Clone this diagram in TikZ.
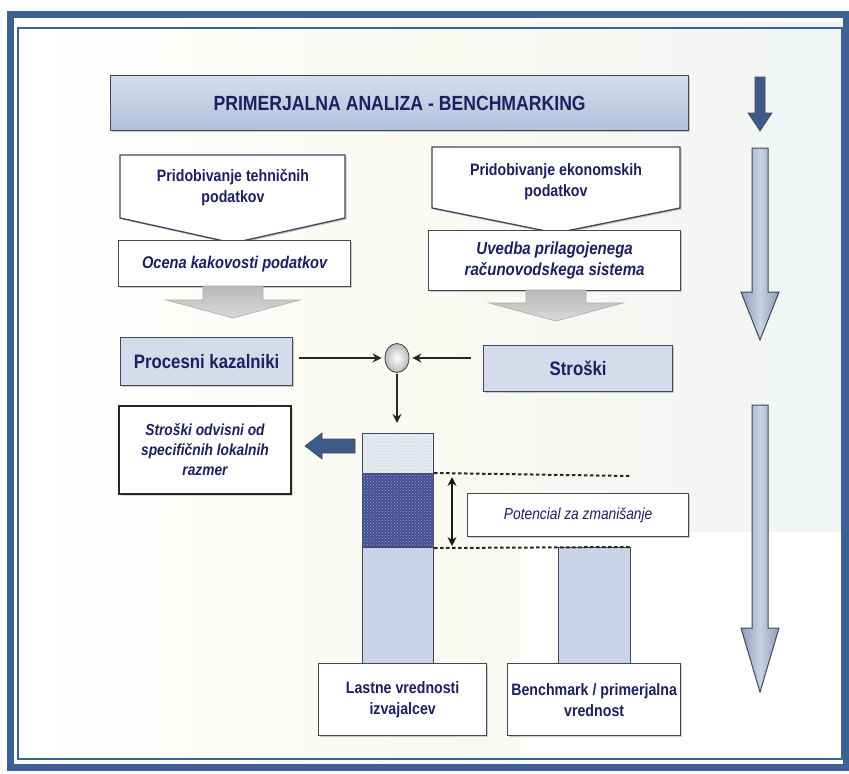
\documentclass[tikz,border=0pt]{standalone}
\usepackage{fontspec}
\setmainfont{Liberation Sans}[FakeStretch=0.86]
\usetikzlibrary{shadows,patterns,arrows.meta,shapes.geometric}
\definecolor{frameblue}{RGB}{58,98,148}
\definecolor{navy}{RGB}{28,32,96}
\definecolor{titlefill}{RGB}{176,194,219}
\definecolor{boxfill}{RGB}{212,220,236}
\definecolor{barfill}{RGB}{200,213,232}
\definecolor{arrowdark}{RGB}{62,92,135}
\definecolor{edge}{RGB}{66,70,88}
\definecolor{bgcream}{RGB}{249,250,242}
\definecolor{bgblue}{RGB}{241,244,245}
\definecolor{arrowlight}{RGB}{200,210,224}
\definecolor{arrowmid}{RGB}{140,158,184}
\begin{document}
\begin{tikzpicture}[x=1pt,y=-1pt,
  txt/.style={text=navy,align=center},
  panel/.style={draw=edge,line width=1.3pt,
    drop shadow={opacity=0.4,shadow xshift=1.5pt,shadow yshift=-1.5pt}},
  nwbox/.style 2 args={anchor=north west,minimum width=#1,minimum height=#2,inner sep=0pt},
  conn/.style={draw=black!85,line width=1.6pt,-{Stealth[length=9pt,width=9pt]}},
  dashline/.style={draw=black!85,line width=2pt,dash pattern=on 3.5pt off 2.5pt},
  grayarrow/.style={top color=gray!55,bottom color=gray!30,draw=gray!65,line width=0.6pt},
  bigarrow/.style={left color=arrowmid,right color=arrowmid,middle color=arrowlight,draw=edge,line width=1pt}
]
\useasboundingbox (0,0) rectangle (849,774);
% background
\fill[white] (0,0) rectangle (849,774);
\shade[left color=white,right color=bgblue,middle color=bgcream] (14,22) rectangle (845,765);
\fill[white] (520,532) rectangle (845,765);
% frame
\draw[frameblue,line width=7pt] (10,14) rectangle (846,767);
\draw[frameblue,line width=1.6pt] (18,28) rectangle (842,759);

% title
\node[panel,txt,nwbox={578pt}{55pt},top color=titlefill!55!white,bottom color=titlefill,
  font=\fontsize{20.5}{24}\selectfont\bfseries] (title) at (110,75) {PRIMERJALNA ANALIZA - BENCHMARKING};

% right column arrows
\fill[arrowdark,draw=edge,line width=0.6pt] (755,77) -- (765,77) -- (765,113) -- (772,113) -- (760,131) -- (748,113) -- (755,113) -- cycle;
\shade[bigarrow] (752,148) -- (768,148) -- (768,292) -- (779,292) -- (760,340) -- (741,292) -- (752,292) -- cycle;
\shade[bigarrow] (752,405) -- (768,405) -- (768,628) -- (779,628) -- (760,692) -- (741,628) -- (752,628) -- cycle;

% pentagons
\path[panel,fill=white] (120,155) -- (345,155) -- (345,218) -- (233,243) -- (120,218) -- cycle;
\node[txt,font=\fontsize{16.5}{21}\selectfont\bfseries] (ptech) at (233,188) {Pridobivanje tehničnih\\podatkov};
\path[panel,fill=white] (432,147) -- (680,147) -- (680,208) -- (556,233) -- (432,208) -- cycle;
\node[txt,font=\fontsize{16.5}{21}\selectfont\bfseries] (peko) at (556,182) {Pridobivanje ekonomskih\\podatkov};

% second row boxes
\node[panel,txt,fill=white,nwbox={232pt}{46pt},font=\fontsize{17}{20}\selectfont\bfseries\itshape] (ocena) at (118,240) {Ocena kakovosti podatkov};
\node[panel,txt,fill=white,nwbox={252pt}{60pt},font=\fontsize{17.5}{21}\selectfont\bfseries\itshape] (uvedba) at (428,230) {Uvedba prilagojenega\\računovodskega sistema};

% gray arrows
\path[grayarrow] (203,286) -- (263,286) -- (263,300) -- (300,300) -- (233,318) -- (166,300) -- (203,300) -- cycle;
\path[grayarrow] (526,290) -- (586,290) -- (586,303) -- (623,303) -- (556,321) -- (489,303) -- (526,303) -- cycle;

% third row
\node[panel,txt,fill=boxfill,nwbox={172pt}{48pt},font=\fontsize{19.5}{22}\selectfont\bfseries] (proc) at (120,337) {Procesni kazalniki};
\node[panel,txt,fill=boxfill,nwbox={189pt}{46pt},font=\fontsize{19.5}{22}\selectfont\bfseries] (stroski) at (483,345) {Stroški};
\node[ellipse,inner sep=0pt,minimum width=24pt,minimum height=29pt,draw=gray!50!black,line width=0.8pt,
  inner color=white,outer color=gray!55] (ell) at (397,358) {};
\draw[conn,shorten <=6pt,shorten >=3pt] (proc.east |- ell.west) -- (ell.west);
\draw[conn,shorten <=12pt,shorten >=3pt] (stroski.west |- ell.east) -- (ell.east);

% side box
\node[txt,draw=black!85,line width=2pt,fill=white,nwbox={172pt}{88pt},font=\fontsize{16}{20}\selectfont\bfseries\itshape,
  drop shadow={opacity=0.3,shadow xshift=1.5pt,shadow yshift=-1.5pt}] (sod) at (118,405) {Stroški odvisni od\\specifičnih lokalnih\\razmer};

% bars
\node[draw=edge,line width=1pt,nwbox={71pt}{40pt},preaction={fill={rgb,255:red,230;green,236;blue,244}},
  pattern=crosshatch dots,pattern color=gray!35] (bartop) at (362,433) {};
\node[draw=navy!80,line width=1pt,nwbox={71pt}{74pt},preaction={fill={rgb,255:red,66;green,78;blue,146}},
  pattern=crosshatch dots,pattern color={rgb,255:red,150;green,165;blue,210}] (barmid) at (362,473) {};
\node[draw=edge,line width=1pt,fill=barfill,nwbox={71pt}{118pt}] (barlow) at (362,547) {};
\node[draw=edge,line width=1pt,fill=barfill,nwbox={72pt}{118pt}] (bar2) at (558,547) {};
\draw[conn,shorten <=1pt,shorten >=10pt] (ell.south) -- (ell.south |- bartop.north);

% left thick arrow
\path[fill=arrowdark,draw=edge,line width=0.6pt] (355,439) -- (322,439) -- (322,433) -- (305,446) -- (322,459) -- (322,453) -- (355,453) -- cycle;

% dashed lines and double arrow
\coordinate (d1) at (630,476);
\draw[dashline] (barmid.north east) -- (d1);
\draw[dashline] (barmid.south east) -- (bar2.north east);
\coordinate (da1) at (452,477);
\coordinate (da2) at (452,546);
\draw[draw=black!90,line width=1.6pt,{Stealth[length=9pt,width=9pt]}-{Stealth[length=9pt,width=9pt]}] (da1) -- (da2);

% potencial
\node[panel,txt,fill=white,nwbox={221pt}{43pt},font=\fontsize{16}{19}\selectfont\itshape] (pot) at (467,493) {Potencial za zmanišanje};

% bottom boxes
\node[panel,txt,fill=white,nwbox={168pt}{72pt},font=\fontsize{16.5}{21}\selectfont\bfseries] (lastne) at (318,663) {Lastne vrednosti\\izvajalcev};
\node[panel,txt,fill=white,nwbox={173pt}{72pt},font=\fontsize{16.5}{21}\selectfont\bfseries] (bench) at (507,663) {Benchmark / primerjalna\\vrednost};
\end{tikzpicture}
\end{document}
